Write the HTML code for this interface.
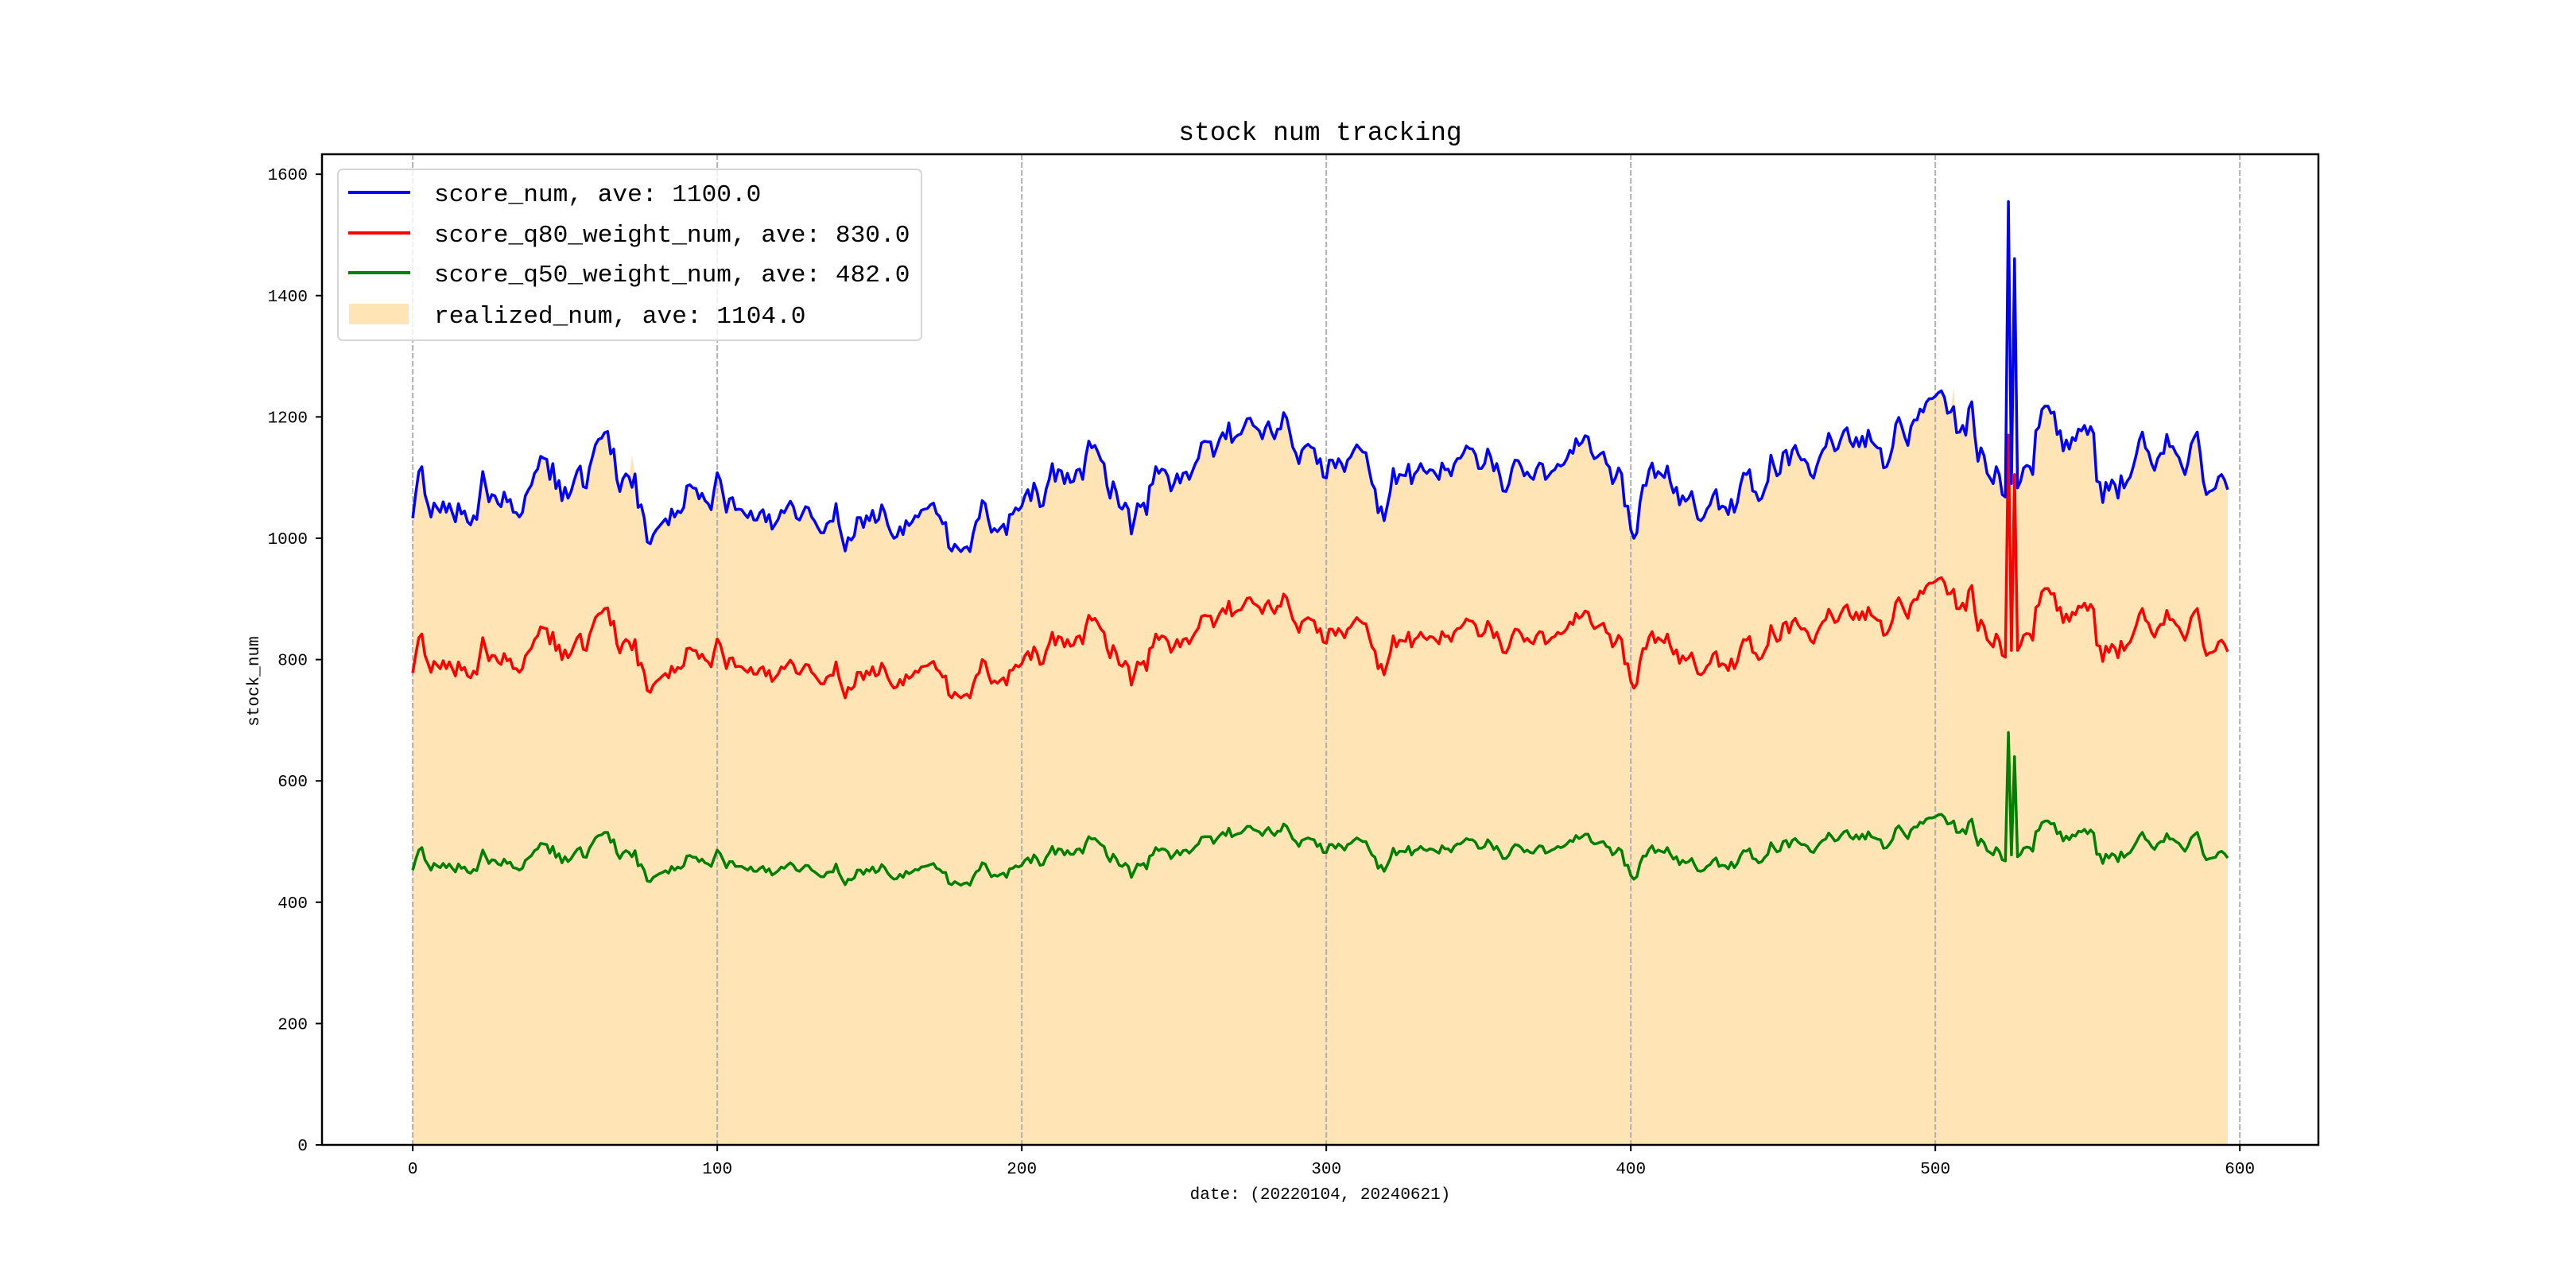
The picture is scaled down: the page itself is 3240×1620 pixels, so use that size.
<!DOCTYPE html>
<html><head><meta charset="utf-8">
<style>
html,body{margin:0;padding:0;background:#fff;}
svg{display:block;}
text{font-family:"Liberation Mono","WenQuanYi Zen Hei",monospace;fill:#000;}
</style></head>
<body>
<svg id="chart" width="3240" height="1620" viewBox="0 0 3240 1620" xmlns="http://www.w3.org/2000/svg"></svg>
<script>
const xTicks = [0,100,200,300,400,500,600];
const yTicks = [0,200,400,600,800,1000,1200,1400,1600];
const scoreNum = [
1033,1075,1110,1118,1072,1055,1035,1058,1050,1043,
1060,1043,1057,1042,1027,1057,1040,1045,1027,1022,
1037,1031,1070,1110,1085,1060,1072,1070,1057,1052,
1076,1060,1064,1043,1042,1035,1042,1070,1080,1088,
1107,1114,1135,1132,1130,1097,1123,1082,1095,1062,
1084,1066,1077,1095,1111,1119,1085,1083,1116,1134,
1154,1163,1165,1174,1176,1139,1147,1097,1077,1098,
1106,1101,1084,1106,1051,1055,1034,994,991,1006,
1014,1020,1026,1032,1022,1048,1035,1045,1042,1051,
1086,1088,1083,1082,1065,1074,1062,1057,1047,1080,
1108,1096,1070,1043,1065,1067,1047,1048,1047,1040,
1034,1045,1030,1030,1042,1047,1027,1039,1015,1023,
1031,1046,1042,1052,1061,1052,1033,1030,1041,1052,
1050,1035,1028,1018,1009,1009,1024,1028,1028,1057,
1022,1000,979,1001,997,1004,1034,1034,
1018,1037,1029,1046,1026,1031,1055,1043,1022,1009,
1000,1003,1019,1006,1029,1021,1027,1037,1035,1046,
1048,1049,1055,1058,1041,1036,1024,1026,985,979,
990,984,978,984,986,978,1007,1027,1033,1062,
1057,1031,1010,1016,1011,1017,1023,1006,1039,1040,
1050,1046,1053,1070,1080,1062,1091,1077,1052,1054,
1081,1097,1123,1094,1113,1111,1090,1107,1092,1094,
1112,1114,1097,1134,1160,1149,1153,1142,1129,1123,
1086,1066,1093,1077,1052,1048,1058,1048,1007,1031,
1057,1052,1058,1039,1086,1090,1118,1107,1114,1112,
1102,1078,1090,1106,1091,1107,1109,1097,1110,1123,
1132,1157,1160,1159,1159,1135,1149,1164,1174,1164,
1190,1158,1166,1170,1172,1184,1197,1198,1186,1182,
1177,1164,1182,1192,1175,1164,1180,1180,1207,1198,
1175,1150,1140,1123,1145,1151,1155,1150,1148,1123,
1131,1101,1099,1129,
1129,1116,1131,1123,1110,1129,1134,1145,1154,1148,
1142,1141,1114,1090,1081,1042,1052,1029,1053,1077,
1115,1090,1105,1104,1103,1122,1090,1106,1112,1123,
1112,1107,1113,1112,1105,1097,1124,1113,1114,1103,
1122,1131,1132,1140,1152,1148,1147,1138,1115,1115,
1123,1147,1134,1111,1123,1103,1078,1077,1090,1115,
1129,1128,1118,1103,1109,1101,1097,1114,1124,1122,
1097,1103,1110,1113,1122,1119,1122,1131,1145,1140,
1164,1153,1158,1169,1167,1142,1131,1134,1139,1142,
1123,1117,1090,1100,1116,1106,1053,1053,1014,1000,
1009,1059,1087,1087,1112,1124,1100,1110,1105,1100,
1119,1092,1075,1084,1055,1070,1061,1066,1077,1053,
1032,1029,1035,1048,1055,1071,1080,1048,1053,1051,
1039,1064,1043,1059,1088,1107,1105,1113,1078,1076,
1062,1066,1081,1094,1137,1119,1103,1107,1141,1145,
1121,1145,1153,1138,1129,
1130,1123,1105,1099,1118,1133,1145,1151,1173,1160,
1144,1148,1164,1177,1182,1160,1151,1166,1151,1168,
1151,1178,1160,1154,1149,1148,1116,1118,1131,1151,
1188,1199,1184,1166,1153,1184,1195,1195,1213,1208,
1224,1230,1230,1234,
1240,1243,1232,1206,1208,1217,1174,1175,1186,1170,
1214,1225,1168,1127,1149,1136,1107,1099,1090,1118,
1105,1072,1068,
1555,1090,1461,1083,
1094,1116,1120,1118,1105,1177,1183,1212,1218,1218,
1206,1208,1171,1177,1144,1162,1147,1166,1161,1180,
1177,1186,1171,1184,1173,1094,1092,1059,1092,1079,
1096,1088,1066,1103,1083,1094,1101,1118,1138,1162,
1175,1149,1142,1123,1112,1131,1140,1140,1171,1151,
1151,1140,1133,1118,1105,1125,1155,1166,1175,1140,
1094,1072,1077,1079,1083,1101,1105,1096,1080];
const q80Num = [
778,809,836,842,807,794,779,797,791,785,
798,785,796,785,773,796,783,787,773,770,
781,776,806,836,817,798,807,806,796,792,
810,798,801,785,785,779,785,806,813,819,
833,839,854,852,851,826,845,815,824,800,
816,803,811,824,836,842,817,815,840,854,
869,875,877,884,885,857,863,826,811,827,
833,829,816,833,791,794,779,749,746,758,
764,768,773,777,770,789,779,787,785,791,
818,819,815,815,802,809,800,796,788,813,
834,825,806,785,802,803,788,789,788,783,
779,787,776,776,785,788,773,782,764,770,
776,788,785,792,799,792,778,776,784,792,
791,779,774,767,760,760,771,774,774,796,
770,753,737,754,751,756,779,779,
767,781,775,788,773,776,794,785,770,760,
753,755,767,758,775,769,773,781,779,788,
789,790,794,797,784,780,771,773,742,737,
746,741,737,741,743,737,758,773,778,800,
796,776,761,765,761,766,770,758,782,783,
791,788,793,806,813,800,821,811,792,794,
814,826,845,824,838,836,821,833,822,824,
837,839,826,854,873,865,868,860,850,845,
818,803,823,811,792,789,797,789,758,776,
796,792,797,782,818,821,842,833,839,837,
830,812,821,833,821,833,835,826,836,845,
852,871,873,872,872,854,865,876,884,876,
896,872,878,881,882,891,901,902,893,890,
886,876,890,897,884,876,888,888,908,902,
884,866,858,845,862,866,869,866,864,845,
851,829,827,850,
850,840,851,845,836,850,854,862,869,864,
860,859,839,821,814,785,792,775,793,811,
839,821,832,831,830,845,821,833,837,845,
837,833,838,837,832,826,846,838,839,830,
845,851,852,858,867,864,863,857,839,839,
845,863,854,836,845,830,812,811,821,839,
850,849,842,830,835,829,826,839,846,845,
826,830,836,838,845,842,845,851,862,858,
876,868,872,880,878,860,851,854,857,860,
845,841,821,828,840,833,793,793,764,753,
760,797,818,818,837,846,828,836,832,828,
842,822,809,816,794,806,799,803,811,793,
777,775,779,789,794,809,813,789,793,791,
782,801,785,797,819,833,832,838,812,810,
800,803,814,824,856,842,830,833,859,862,
844,862,868,857,850,
851,845,832,827,842,853,862,866,883,873,
861,864,876,886,890,873,866,878,866,879,
866,886,873,869,865,864,840,842,851,866,
894,902,891,878,868,891,899,899,913,909,
921,926,926,929,
933,935,927,908,909,916,884,884,893,881,
914,922,879,848,865,855,833,827,821,842,
832,807,804,
1170,815,1105,815,
824,840,843,842,832,886,890,912,917,917,
908,909,881,886,861,875,863,878,874,888,
886,893,881,891,883,824,822,797,822,812,
825,819,803,830,815,824,829,842,857,875,
884,865,860,845,837,851,858,858,881,866,
866,858,853,842,832,847,869,878,884,858,
824,807,811,812,815,829,832,825,813];
const q50Num = [
453,471,486,490,470,462,453,464,460,457,
464,457,463,456,450,463,456,458,450,448,
454,452,469,486,475,464,470,469,463,461,
471,464,466,457,456,453,456,469,473,477,
485,488,497,496,495,481,492,474,480,465,
475,467,472,480,487,490,475,474,489,497,
506,510,511,515,515,499,503,481,472,481,
485,482,475,485,460,462,453,435,434,441,
444,447,449,452,448,459,453,458,456,460,
476,477,474,474,467,471,465,463,459,473,
486,480,469,457,467,467,459,459,459,456,
453,458,451,451,456,459,450,455,445,448,
452,458,456,461,465,461,453,451,456,461,
460,453,450,446,442,442,449,450,450,463,
448,438,429,438,437,440,453,453,
446,454,451,458,449,452,462,457,448,442,
438,439,446,441,451,447,450,454,453,458,
459,460,462,464,456,454,449,449,431,429,
434,431,428,431,432,428,441,450,453,465,
463,452,442,445,443,446,448,441,455,456,
460,458,461,469,473,465,478,472,461,462,
474,481,492,479,488,487,478,485,479,479,
487,488,481,497,508,504,505,500,495,492,
476,467,479,472,461,459,464,459,441,452,
463,461,464,455,476,478,490,485,488,487,
483,472,478,485,478,485,486,481,486,492,
496,507,508,508,508,497,504,510,515,510,
522,508,511,513,514,519,525,525,520,518,
516,510,518,523,515,510,517,517,529,525,
515,504,500,492,502,504,506,504,503,492,
496,482,482,495,
495,489,496,492,486,495,497,502,506,503,
500,500,488,478,474,456,461,451,461,472,
489,478,484,484,483,492,478,485,487,492,
487,485,488,487,484,481,493,488,488,483,
492,496,496,500,505,503,503,499,489,489,
492,503,497,487,492,483,472,472,478,489,
495,494,490,483,486,482,481,488,493,492,
481,483,486,488,492,490,492,496,502,500,
510,505,508,512,512,500,496,497,499,500,
492,490,478,482,489,485,461,461,444,438,
442,464,476,476,487,493,482,486,484,482,
490,479,471,475,462,469,465,467,472,461,
452,451,453,459,462,469,473,459,461,460,
455,466,457,464,477,485,484,488,472,471,
465,467,474,479,498,490,483,485,500,502,
491,502,505,499,495,
495,492,484,482,490,497,502,504,514,508,
501,503,510,516,518,508,504,511,504,512,
504,516,508,506,504,503,489,490,496,504,
521,526,519,511,505,519,524,524,532,530,
537,539,539,541,
544,545,540,529,530,534,515,515,520,513,
532,537,512,494,504,498,485,482,478,490,
484,470,468,
680,478,640,475,
479,489,491,490,484,516,519,531,534,534,
529,530,513,516,501,509,503,511,509,517,
516,520,513,519,514,479,479,464,479,473,
480,477,467,483,474,479,482,490,499,509,
515,504,500,492,487,496,500,500,513,504,
504,500,497,490,484,493,506,511,515,500,
479,470,472,473,474,482,484,480,473];
const realizedNum = scoreNum.slice();
realizedNum[72] = 1137;
realizedNum[524] = 1090;
realizedNum[526] = 1085;
realizedNum[506] = 1250;
realizedNum[512] = 1230;

const NS = "http://www.w3.org/2000/svg";
const svg = document.getElementById('chart');
const L = 405, R = 2916, T = 194, B = 1440;
const XMIN = -29.8, XMAX = 625.8, YMIN = 0, YMAX = 1633;
function xs(v){ return L + (v - XMIN) / (XMAX - XMIN) * (R - L); }
function ys(v){ return B - (v - YMIN) / (YMAX - YMIN) * (B - T); }
function mk(tag, attrs, parent){
  const e = document.createElementNS(NS, tag);
  for (const k in attrs) e.setAttribute(k, attrs[k]);
  (parent || svg).appendChild(e);
  return e;
}

// realized fill
let d = 'M' + xs(0) + ',' + ys(0);
realizedNum.forEach((v, i) => { d += ' L' + xs(i).toFixed(1) + ',' + ys(v).toFixed(1); });
d += ' L' + xs(realizedNum.length - 1).toFixed(1) + ',' + ys(0) + ' Z';
const area = mk('path', {d: d, fill: '#ffe4b5', stroke: 'none'});



// vertical grid
xTicks.forEach(t => {
  const g = mk('line', {x1: xs(t), x2: xs(t), y1: T, y2: B, stroke: '#b0b0b0', 'stroke-width': 2, 'stroke-dasharray': '7,3'});
  
  
});

function drawLine(arr, color, name){
  let p = '';
  arr.forEach((v, i) => { p += (i ? ' L' : 'M') + xs(i).toFixed(1) + ',' + ys(v).toFixed(1); });
  const el = mk('path', {d: p, fill: 'none', stroke: color, 'stroke-width': 3.5, 'stroke-linejoin': 'round'});
  
  
}
drawLine(q50Num, '#008000', 'score-q50-line');
drawLine(q80Num, '#ff0000', 'score-q80-line');
drawLine(scoreNum, '#0000ff', 'score-num-line');

// axes frame
const frame = mk('rect', {x: L, y: T, width: R - L, height: B - T, fill: 'none', stroke: '#000', 'stroke-width': 2.5});



// ticks
xTicks.forEach(t => {
  mk('line', {x1: xs(t), x2: xs(t), y1: B, y2: B + 8, stroke: '#000', 'stroke-width': 2});
  const tx = mk('text', {x: xs(t), y: B + 36, 'font-size': 21, 'text-anchor': 'middle'});
  tx.textContent = t;
  
  
});
yTicks.forEach(t => {
  mk('line', {x1: L - 8, x2: L, y1: ys(t), y2: ys(t), stroke: '#000', 'stroke-width': 2});
  const ty = mk('text', {x: L - 18, y: ys(t) + 7, 'font-size': 21, 'text-anchor': 'end'});
  ty.textContent = t;
  
  
});

// titles
const title = mk('text', {x: (L + R) / 2, y: 176, 'font-size': 33, 'text-anchor': 'middle'});
title.textContent = 'stock num tracking';


const xl = mk('text', {x: (L + R) / 2, y: 1508, 'font-size': 21, 'text-anchor': 'middle'});
xl.textContent = 'date: (20220104, 20240621)';


const yl = mk('text', {x: 0, y: 0, 'font-size': 21, 'text-anchor': 'middle', transform: 'translate(325,857) rotate(-90)'});
yl.textContent = 'stock_num';



// legend
const lg = mk('g', {});


mk('rect', {x: 425, y: 213, width: 734, height: 215, rx: 6, fill: '#fff', 'fill-opacity': 0.8, stroke: '#d6d6d6', 'stroke-width': 2}, lg);
const legendLabels = ['score_num, ave: 1100.0', 'score_q80_weight_num, ave: 830.0', 'score_q50_weight_num, ave: 482.0', 'realized_num, ave: 1104.0'];
const legendColors = ['#0000ff', '#ff0000', '#008000', '#ffe4b5'];
const legendY = [242, 293, 343, 395];
legendLabels.forEach((lab, i) => {
  const ent = mk('g', {}, lg);
  
  
  if (i < 3) mk('line', {x1: 438, x2: 516, y1: legendY[i], y2: legendY[i], stroke: legendColors[i], 'stroke-width': 4}, ent);
  else mk('rect', {x: 439, y: legendY[i] - 13, width: 75, height: 26, fill: legendColors[i]}, ent);
  const t = mk('text', {x: 546, y: legendY[i] + 11, 'font-size': 31}, ent);
  t.setAttribute('textLength', lab.length * 18.7);
  t.setAttribute('lengthAdjust', 'spacingAndGlyphs');
  t.textContent = lab;
});
</script>
</body></html>
